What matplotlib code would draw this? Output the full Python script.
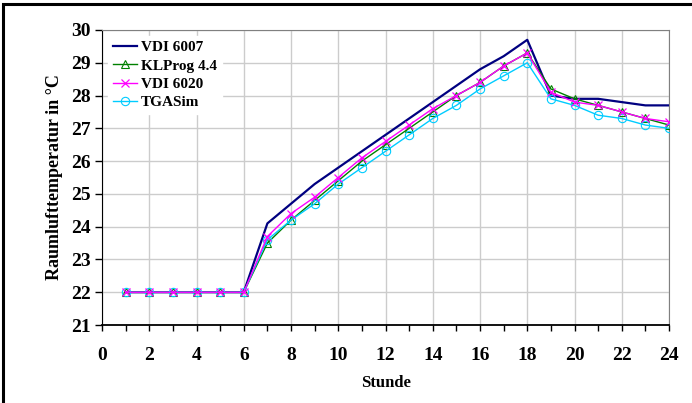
import matplotlib.pyplot as plt
from matplotlib.patches import Rectangle

# Daten
stunde = list(range(1, 25))
vdi6007 = [22, 22, 22, 22, 22, 22, 24.1, 24.7, 25.3, 25.8, 26.3, 26.8,
           27.3, 27.8, 28.3, 28.8, 29.2, 29.7, 28.0, 27.9, 27.9, 27.8, 27.7, 27.7]
klprog = [22, 22, 22, 22, 22, 22, 23.5, 24.2, 24.8, 25.4, 26.0, 26.5,
          27.0, 27.5, 28.0, 28.4, 28.9, 29.3, 28.2, 27.9, 27.7, 27.5, 27.3, 27.1]
vdi6020 = [22, 22, 22, 22, 22, 22, 23.7, 24.4, 24.9, 25.5, 26.1, 26.6,
           27.1, 27.6, 28.0, 28.4, 28.9, 29.3, 28.1, 27.8, 27.7, 27.5, 27.3, 27.2]
tgasim = [22, 22, 22, 22, 22, 22, 23.6, 24.2, 24.7, 25.3, 25.8, 26.3,
          26.8, 27.3, 27.7, 28.2, 28.6, 29.0, 27.9, 27.7, 27.4, 27.3, 27.1, 27.0]

plt.rcParams['font.family'] = ['Liberation Serif', 'DejaVu Serif']
plt.rcParams['font.weight'] = 'bold'

fig = plt.figure(figsize=(6.92, 4.03), dpi=100)
ax = fig.add_axes([0.1474, 0.1935, 0.8194, 0.7321])

ax.plot(stunde, vdi6007, color='#000080', lw=1.6, label='VDI 6007', zorder=3)
ax.plot(stunde, klprog, color='#008000', lw=1.0, marker='^', ms=6,
        mfc='none', mec='#008000', mew=0.8, label='KLProg 4.4', zorder=4)
ax.plot(stunde, vdi6020, color='#ff00ff', lw=1.0, marker='x', ms=6,
        mew=0.9, label='VDI 6020', zorder=5)
ax.plot(stunde, tgasim, color='#00ccff', lw=1.0, marker='o', ms=6,
        mfc='none', mec='#00ccff', mew=0.8, label='TGASim', zorder=4)

ax.set_xlim(0, 24)
ax.set_ylim(21, 30)
ax.set_xticks(range(0, 25, 2))
ax.set_xticks(range(0, 25), minor=True)
ax.set_yticks(range(21, 31))
ax.grid(True, which='major', color='#cccccc', lw=1.0, zorder=0)
ax.set_axisbelow(True)

ax.tick_params(axis='x', which='both', direction='out', length=4, width=1,
               labelsize=14, pad=12)
ax.tick_params(axis='y', which='major', direction='out', length=5, width=1,
               labelsize=14, pad=3)
for lab in ax.get_xticklabels() + ax.get_yticklabels():
    lab.set_fontweight('bold')

for s in ['top', 'right']:
    ax.spines[s].set_color('#808080')
ax.spines['left'].set_color('black')
ax.spines['bottom'].set_color('black')
ax.spines['bottom'].set_linewidth(1.3)

ax.set_xlabel('Stunde', fontsize=12, fontweight='bold', labelpad=8)
ax.set_ylabel('Raumlufttemperatur in °C', fontsize=13, fontweight='bold',
              labelpad=6)

leg = ax.legend(loc='upper left', bbox_to_anchor=(0.0, 1.0), frameon=True,
                fancybox=False, edgecolor='white', framealpha=1,
                prop={'weight': 'bold', 'size': 11}, handlelength=1.6,
                handletextpad=0.25, labelspacing=0.3, borderpad=0.3,
                borderaxespad=0.4)

# Rahmen um die Abbildung
fig.patches.append(Rectangle((0.005, -0.05), 1.1, 1.04, transform=fig.transFigure,
                             fill=False, edgecolor='black', lw=2.2))

fig.savefig('out.png', dpi=100)
